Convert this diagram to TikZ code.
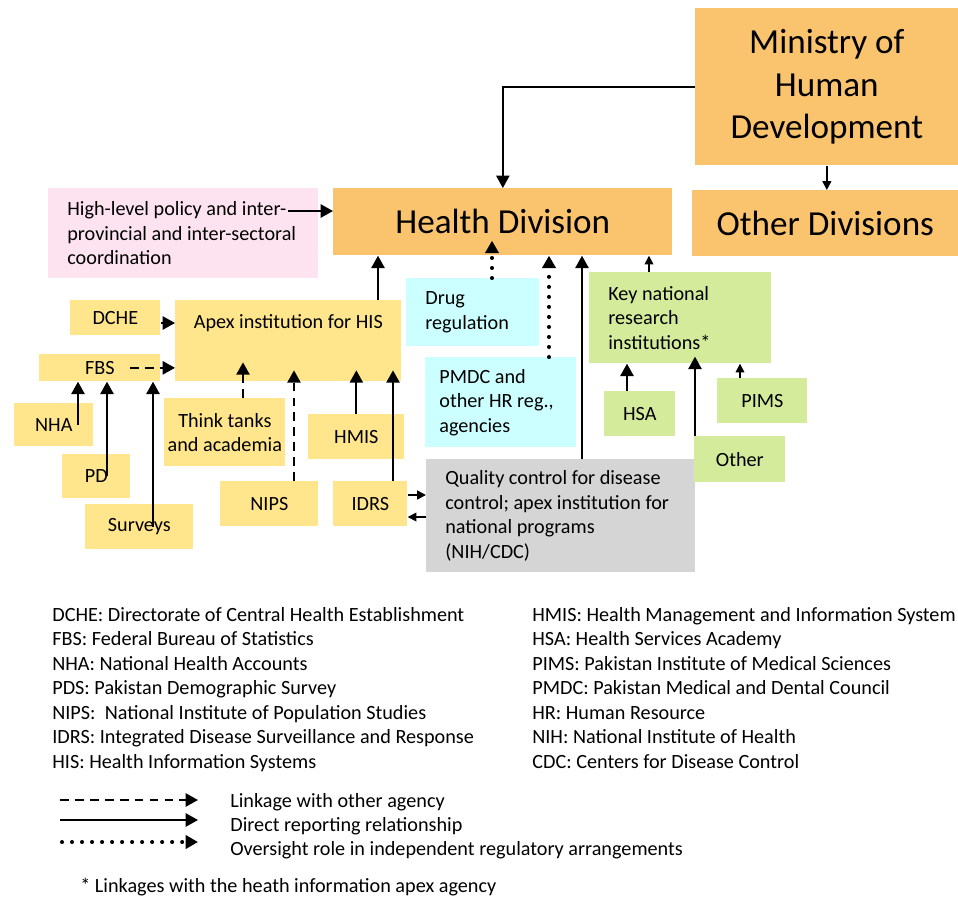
\documentclass[tikz,border=0pt]{standalone}
\usepackage{fontspec}
\setmainfont{Carlito}
\usetikzlibrary{arrows.meta}

\newlength{\pxu}
\setlength{\pxu}{0.02cm}

\definecolor{hdorange}{HTML}{FAC36E}
\definecolor{apexyellow}{HTML}{FFE68C}
\definecolor{policypink}{HTML}{FDE3F0}
\definecolor{regcyan}{HTML}{CCFFFF}
\definecolor{resgreen}{HTML}{D3EB9B}
\definecolor{qcgray}{HTML}{D5D5D5}

\tikzset{
  box/.style={rectangle, anchor=north west, inner sep=0pt},
  orangebox/.style={box, fill=hdorange, font=\fontsize{20}{24}\selectfont},
  yellowbox/.style={box, fill=apexyellow},
  greenbox/.style={box, fill=resgreen},
  leftbox/.style={box, align=flush left, inner xsep=19\pxu},
  arr/.style={line width=1.1pt, -{Triangle[width=7.5pt,length=7pt]}},
  smallarr/.style={line width=0.9pt, -{Triangle[width=5pt,length=5pt]}},
  dasharr/.style={arr, dash pattern=on 5pt off 3.5pt},
  dotarr/.style={line width=2.3pt, line cap=round, dash pattern=on 0pt off 5.7pt,
    -{Triangle[width=7.5pt,length=7pt,line cap=butt]}}
}

\begin{document}
\begin{tikzpicture}[x=0.02cm, y=-0.02cm, font=\fontsize{11.5}{13.9}\selectfont]
  \useasboundingbox (0,0) rectangle (958,897);

  % Top level
  \node[orangebox, minimum width=263\pxu, minimum height=157\pxu, align=center] (ministry) at (695,8) {Ministry of\\Human\\Development};
  \node[orangebox, minimum width=266\pxu, minimum height=66\pxu] (otherdiv) at (692,190) {Other Divisions};
  \node[orangebox, minimum width=339\pxu, minimum height=67\pxu] (health) at (333,188) {Health Division};
  \node[leftbox, fill=policypink, text width=232\pxu, minimum height=90\pxu] (policy) at (48,188) {High-level policy and inter-\\provincial and inter-sectoral\\coordination};

  % Health information boxes
  \node[yellowbox, minimum width=226\pxu, text height=15.9pt, text depth=30pt] (apex) at (175,300) {Apex institution for HIS};
  \node[yellowbox, minimum width=90\pxu, minimum height=35\pxu] (dche) at (70,300) {DCHE};
  \node[yellowbox, minimum width=121\pxu, minimum height=27\pxu] (fbs) at (39,354) {FBS};
  \node[yellowbox, minimum width=79\pxu, minimum height=43\pxu] (nha) at (14,403) {NHA};
  \node[yellowbox, minimum width=68\pxu, minimum height=44\pxu] (pd) at (62,454) {PD};
  \node[yellowbox, minimum width=108\pxu, minimum height=45\pxu] (surveys) at (85,504) {Surveys};
  \node[yellowbox, minimum width=121\pxu, minimum height=68\pxu, align=center] (think) at (164,398) {Think tanks\\and academia};
  \node[yellowbox, minimum width=96\pxu, minimum height=45\pxu] (hmis) at (308,414) {HMIS};
  \node[yellowbox, minimum width=98\pxu, minimum height=45\pxu] (nips) at (220,481) {NIPS};
  \node[yellowbox, minimum width=74\pxu, minimum height=45\pxu] (idrs) at (333,481) {IDRS};

  % Regulation and programs
  \node[leftbox, fill=regcyan, text width=95\pxu, minimum height=68\pxu] (drug) at (406,278) {Drug\\regulation};
  \node[leftbox, fill=regcyan, inner xsep=14\pxu, text width=123\pxu, minimum height=90\pxu] (pmdc) at (425,357) {PMDC and\\other HR reg.,\\agencies};
  \node[leftbox, fill=qcgray, text width=231\pxu, minimum height=113\pxu] (qc) at (426,459) {Quality control for disease\\control; apex institution for\\national programs\\(NIH/CDC)};

  % Research institutions
  \node[leftbox, fill=resgreen, text width=144\pxu, minimum height=91\pxu] (keyres) at (589,272) {Key national\\research\\institutions*};
  \node[greenbox, minimum width=71\pxu, minimum height=45\pxu] (hsa) at (604,391) {HSA};
  \node[greenbox, minimum width=90\pxu, minimum height=45\pxu] (pims) at (717,378) {PIMS};
  \node[greenbox, minimum width=91\pxu, minimum height=46\pxu] (other) at (694,436) {Other};

  % Connectors
  \draw[line width=0.8pt, -{Triangle[width=7.5pt,length=7pt]}] (ministry.west) -| (health.north);
  \draw[smallarr] (ministry.south) -- (ministry.south |- otherdiv.north);
  \coordinate (policyend) at (288,211);
  \draw[arr] (policyend) -- (policyend -| health.west);
  \draw[arr] (apex.north -| 378,0) -- (health.south -| 378,0);
  \draw[arr] (dche.east |- 0,323) -- (apex.west |- 0,323);
  \draw[dasharr] (fbs.center -| 130,0) -- (fbs.center -| apex.west);
  \draw[arr] (nha.center -| 78,0) -- (fbs.south -| 78,0);
  \draw[arr] (pd.center -| 107,0) -- (fbs.south -| 107,0);
  \draw[arr] (surveys.center -| 153,0) -- (fbs.south -| 153,0);
  \draw[dasharr, shorten >=-19\pxu] (think.north -| 243,0) -- (apex.south -| 243,0);
  \draw[dasharr, shorten >=-11\pxu] (nips.north -| 294,0) -- (apex.south -| 294,0);
  \draw[arr, shorten >=-11\pxu] (hmis.north) -- (hmis.north |- apex.south);
  \draw[arr, shorten >=-11\pxu] (idrs.north -| 393,0) -- (apex.south -| 393,0);
  \draw[smallarr] (idrs.east |- 0,495) -- (qc.west |- 0,495);
  \draw[smallarr] (qc.west |- 0,517) -- (idrs.east |- 0,517);
  \draw[dotarr, shorten >=-15\pxu] (drug.north -| 492,0) -- (health.south -| 492,0);
  \draw[dotarr] (pmdc.north -| 549,0) -- (health.south -| 549,0);
  \draw[arr] (qc.north -| 582,0) -- (health.south -| 582,0);
  \draw[smallarr] (keyres.north -| 649,0) -- (health.south -| 649,0);
  \draw[arr] (hsa.north -| 627,0) -- (keyres.south -| 627,0);
  \draw[arr, shorten >=-7\pxu] (other.north -| 695,0) -- (keyres.south -| 695,0);
  \draw[smallarr] (pims.north -| 740,0) -- (keyres.south -| 740,0);

  % Abbreviations
  \foreach \txt [count=\i from 0] in {DCHE: Directorate of Central Health Establishment, FBS: Federal Bureau of Statistics, NHA: National Health Accounts, PDS: Pakistan Demographic Survey, NIPS:\ \ National Institute of Population Studies, IDRS: Integrated Disease Surveillance and Response, HIS: Health Information Systems}
    \node[anchor=base west, inner sep=0pt] (abbl\i) at (52,{621+24.5*\i}) {\txt};
  \foreach \txt [count=\i from 0] in {HMIS: Health Management and Information System, HSA: Health Services Academy, PIMS: Pakistan Institute of Medical Sciences, PMDC: Pakistan Medical and Dental Council, HR: Human Resource, NIH: National Institute of Health, CDC: Centers for Disease Control}
    \node[anchor=base west, inner sep=0pt] (abbr\i) at (532,{621+24.5*\i}) {\txt};

  % Legend
  \coordinate (dashA) at (60,800);
  \coordinate (dashB) at (198,800);
  \coordinate (solidA) at (60,820);
  \coordinate (solidB) at (198,820);
  \coordinate (dotA) at (62,842);
  \coordinate (dotB) at (198,842);
  \draw[dasharr] (dashA) -- (dashB);
  \draw[arr] (solidA) -- (solidB);
  \draw[dotarr] (dotA) -- (dotB);
  \node[anchor=base west, inner sep=0pt] (legdash) at (230,807) {Linkage with other agency};
  \node[anchor=base west, inner sep=0pt] (legsolid) at (230,831) {Direct reporting relationship};
  \node[anchor=base west, inner sep=0pt] (legdot) at (230,855) {Oversight role in independent regulatory arrangements};
  \node[anchor=base west, inner sep=0pt] (footnote) at (80,892) {* Linkages with the heath information apex agency};
\end{tikzpicture}
\end{document}
